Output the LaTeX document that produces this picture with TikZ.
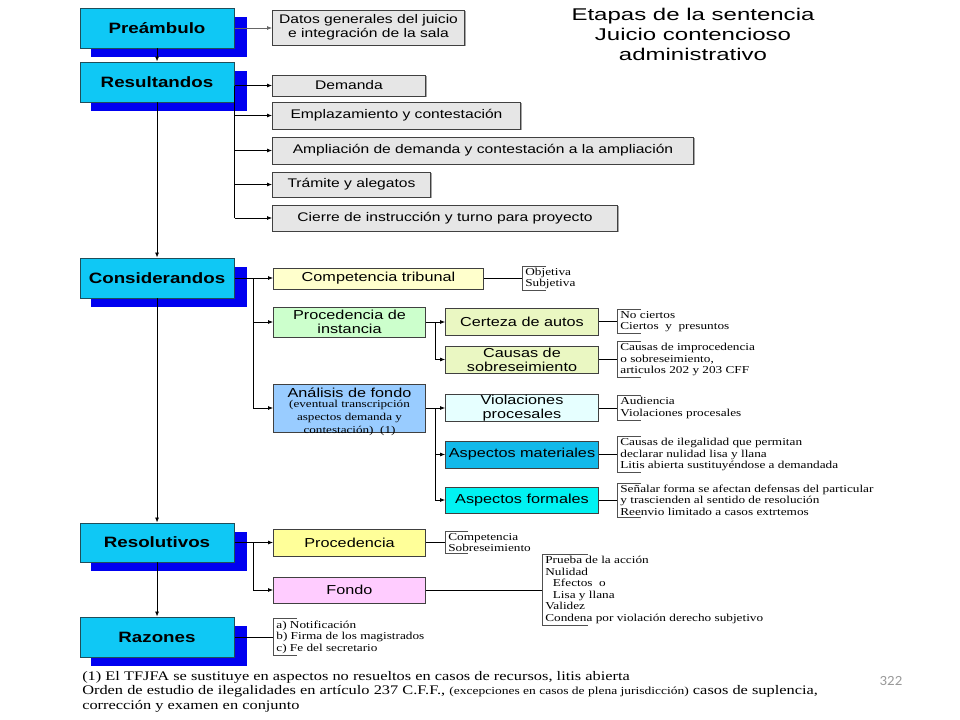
\documentclass[tikz,border=0pt]{standalone}
\usepackage{graphicx}
\usepackage{fontspec}
\setmainfont{Liberation Serif}
\setsansfont{Liberation Sans}
\newfontfamily\numfont{Carlito}
\usetikzlibrary{arrows.meta,calc,backgrounds,shadows}
\definecolor{mainfill}{HTML}{0FC8F5}
\definecolor{maindraw}{HTML}{1F4E5A}
\definecolor{shadowc}{HTML}{0000F0}
\definecolor{grayfill}{HTML}{E6E6E6}
\definecolor{boxdraw}{HTML}{404040}
\definecolor{ccomp}{HTML}{FFFFCC}
\definecolor{cpin}{HTML}{CCFFCC}
\definecolor{cana}{HTML}{99CCFF}
\definecolor{ccer}{HTML}{EAF7C2}
\definecolor{cvio}{HTML}{E6FFFF}
\definecolor{cmat}{HTML}{12B9EA}
\definecolor{cfrm}{HTML}{00F2F2}
\definecolor{cproc}{HTML}{FFFF99}
\definecolor{cfon}{HTML}{FFCCFF}
\definecolor{brkc}{HTML}{505050}
\newcommand{\brkt}[2]{\draw[brk] ($(#1.north west)+(#2,0)$) -- (#1.north west) -- (#1.south west) -- ($(#1.south west)+(#2,0)$);}
\begin{document}
\begin{tikzpicture}[x=0.8pt,y=-1pt,xscale=1.25,
  every node/.append style={transform shape},
  bw/.style={minimum width={#1*0.8pt}},
  bh/.style={minimum height={#1*1pt}},
  mainbox/.style={draw=maindraw,fill=mainfill,line width=0.9pt,inner sep=0pt,
    bw=154,bh=40,font=\sffamily\bfseries\fontsize{15}{18}\selectfont},
  graybox/.style={draw=boxdraw,fill=grayfill,line width=0.8pt,inner sep=0pt,anchor=west,
    align=center,font=\sffamily\fontsize{12.5}{13.5}\selectfont,
    general shadow={fill=gray!70,shadow xshift=1.2pt,shadow yshift=-1.2pt}},
  subbox/.style={draw=boxdraw,line width=0.8pt,inner sep=0pt,anchor=west,bw=153,
    align=center,font=\sffamily\fontsize{13}{14}\selectfont},
  brtext/.style={anchor=west,align=left,inner xsep=2.5pt,inner ysep=1.5pt,
    font=\rmfamily\fontsize{10.6}{11.6}\selectfont},
  arr/.style={-{Latex[length=5pt,width=4pt]},line width=0.8pt,draw=black},
  garr/.style={-{Latex[length=5pt,width=4pt]},line width=0.8pt,draw=gray!80!black},
  ln/.style={line width=0.8pt,draw=black},
  brk/.style={line width=0.8pt,draw=brkc}]
\useasboundingbox (0,0) rectangle (960,720);

% main stages
\node[mainbox] (pre) at (157,28) {Preámbulo};
\node[mainbox] (res) at (157,82) {Resultandos};
\node[mainbox] (con) at (157,278) {Considerandos};
\node[mainbox,bh=39] (rsv) at (157,542.5) {Resolutivos};
\node[mainbox] (raz) at (157,637) {Razones};

\begin{scope}[on background layer]
\fill[white] (0,0) rectangle (960,720);
\foreach \n in {pre,res,con,rsv,raz}{
  \fill[shadowc] ($(\n.south west)+(12,9)$) rectangle ($(\n.north east)+(12,9)$);
}
\end{scope}

% title
\node[align=center,font=\sffamily\fontsize{17}{20}\selectfont] (title) at (693,34)
  {\scalebox{1.13}[1]{Etapas de la sentencia}\\\scalebox{1.13}[1]{Juicio contencioso}\\\scalebox{1.13}[1]{administrativo}};

% resultandos children
\node[graybox,bw=192,bh=35] (dat) at (272,27.5) {Datos generales del juicio\\e integración de la sala};
\node[graybox,bw=153,bh=21] (dem) at (272,85.5) {Demanda};
\node[graybox,bw=248,bh=27] (emp) at (272,115.5) {Emplazamiento y contestación};
\node[graybox,bw=421,bh=27] (amp) at (272,150.5) {Ampliación de demanda y contestación a la ampliación};
\node[graybox,bw=158,bh=25] (tra) at (272,184.5) {Trámite y alegatos};
\node[graybox,bw=345,bh=26] (cie) at (272,218) {Cierre de instrucción y turno para proyecto};

% considerandos children
\node[subbox,fill=ccomp,bw=210,bh=21] (comp) at (273,278.5) {Competencia tribunal};
\node[subbox,fill=cpin,bw=152,bh=30] (pin) at (273,322) {Procedencia de\\instancia};
\node[subbox,fill=cana,bw=152,bh=48,inner ysep=-4pt] (ana) at (273,408)
  {\rule{0pt}{17pt}Análisis de fondo\\[-4pt]{\rmfamily\fontsize{10.5}{12}\selectfont (eventual transcripción}\\[-1pt]{\rmfamily\fontsize{10.5}{12}\selectfont aspectos demanda y}\\[-1pt]{\rmfamily\fontsize{10.5}{12}\selectfont contestación)\ \ (1)}};
\node[subbox,fill=ccer,bh=27] (cer) at (445,321.5) {Certeza de autos};
\node[subbox,fill=ccer,bh=27] (cau) at (445,359.5) {Causas de\\sobreseimiento};
\node[subbox,fill=cvio,bh=27] (vio) at (445,408) {Violaciones\\procesales};
\node[subbox,fill=cmat,bh=27] (mat) at (445,454.5) {Aspectos materiales};
\node[subbox,fill=cfrm,bh=26] (frm) at (445,500) {Aspectos formales};

% resolutivos children
\node[subbox,fill=cproc,bw=152,bh=27] (proc) at (273,542.5) {Procedencia};
\node[subbox,fill=cfon,bw=152,bh=26] (fon) at (273,590) {Fondo};

% bracket texts
\node[brtext] (objt) at (522,278.5) {Objetiva\\Subjetiva};
\node[brtext] (cert) at (617,321.5) {No ciertos\\Ciertos\ \ y\ \ presuntos};
\node[brtext] (caut) at (617,359.5) {Causas de improcedencia\\o sobreseimiento,\\articulos 202 y 203 CFF};
\node[brtext] (viot) at (617,408) {Audiencia\\Violaciones procesales};
\node[brtext] (matt) at (617,454.5) {Causas de ilegalidad que permitan\\declarar nulidad lisa y llana\\Litis abierta sustituyéndose a demandada};
\node[brtext] (frmt) at (617,500) {Señalar forma se afectan defensas del particular\\y trascienden al sentido de resolución\\Reenvio limitado a casos extrtemos};
\node[brtext] (proct) at (445,542.5) {Competencia\\Sobreseimiento};
\node[brtext] (font) at (542,590) {Prueba de la acción\\Nulidad\\\hspace*{6pt}Efectos\ \ o\\\hspace*{6pt}Lisa y llana\\Validez\\Condena por violación derecho subjetivo};
\node[brtext] (razt) at (273,637) {a) Notificación\\b) Firma de los magistrados\\c) Fe del secretario};

\brkt{objt}{24}
\brkt{cert}{24}
\brkt{caut}{24}
\brkt{viot}{24}
\brkt{matt}{24}
\brkt{frmt}{24}
\brkt{proct}{23}
\brkt{font}{46}
\brkt{razt}{24}

% main vertical chain
\draw[arr] (pre.south) -- (res.north);
\draw[arr] (res.south) -- (con.north);
\draw[arr] (con.south) -- (rsv.north);
\draw[arr] (rsv.south) -- (raz.north);

% preambulo
\draw[garr] (pre.east) -- (pre.east -| dat.west);

% resultandos bus
\draw[ln] (res.east |- dem) -- (res.east |- cie);
\foreach \b in {dem,emp,amp,tra,cie}{
  \draw[arr] (res.east |- \b) -- (\b.west);
}

% considerandos
\coordinate (cbus) at (253,278);
\draw[arr] (con.east) -- (con.east -| comp.west);
\draw[arr] (cbus) |- (pin.west);
\draw[arr] (cbus) |- (ana.west);
\coordinate (pbus) at (435,322);
\draw[arr] (pin.east) -- (pin.east -| cer.west);
\draw[arr] (pbus) |- (cau.west);
\coordinate (abus) at (435,408);
\draw[arr] (ana.east) -- (ana.east -| vio.west);
\draw[arr] (abus) |- (mat.west);
\draw[arr] (abus) |- (frm.west);

% bracket connectors
\draw[ln] (comp.east) -- (comp.east -| objt.west);
\draw[ln] (cer.east) -- (cer.east -| cert.west);
\draw[ln] (cau.east) -- (cau.east -| caut.west);
\draw[ln] (vio.east) -- (vio.east -| viot.west);
\draw[ln] (mat.east) -- (mat.east -| matt.west);
\draw[ln] (frm.east) -- (frm.east -| frmt.west);

% resolutivos
\coordinate (rbus) at (253,542.5);
\draw[arr] (rsv.east) -- (rsv.east -| proc.west);
\draw[arr] (rbus) |- (fon.west);
\draw[ln] (proc.east) -- (proc.east -| proct.west);
\draw[ln] (fon.east) -- (fon.east -| font.west);

% razones
\draw[ln] (raz.east) -- (raz.east -| razt.west);

% footnote
\node[anchor=north west,align=left,inner sep=0pt,font=\rmfamily\fontsize{13.1}{14.5}\selectfont] (note) at (82,671)
  {(1) El TFJFA se sustituye en aspectos no resueltos en casos de recursos, litis abierta\\
   Orden de estudio de ilegalidades en artículo 237 C.F.F., {\fontsize{10.8}{14.5}\selectfont(excepciones en casos de plena jurisdicción)} casos de suplencia,\\
   corrección y examen en conjunto};

% page number
\node[font=\numfont\fontsize{14}{16}\selectfont,text=gray!80] (pg) at (891,681) {\scalebox{0.85}[1]{322}};
\end{tikzpicture}
\end{document}
